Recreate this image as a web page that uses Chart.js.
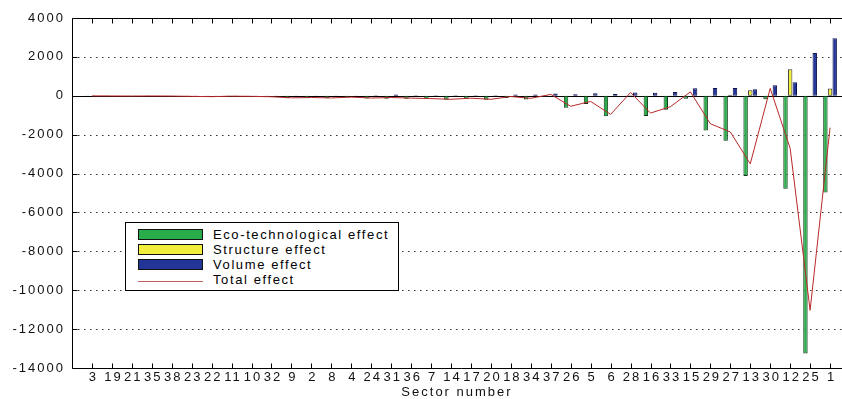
<!DOCTYPE html>
<html><head><meta charset="utf-8">
<script src="https://cdn.jsdelivr.net/npm/chart.js@4/dist/chart.umd.min.js"></script>
<style>
html,body{margin:0;padding:0;background:#fff;overflow:hidden;width:842px;height:399px}
#wrap{position:relative;width:842px;height:399px;overflow:hidden;background:#fff}
#c{position:absolute;left:0;top:0}
#legend{position:absolute;left:125px;top:222px;width:272px;height:67px;border:1px solid #000;background:#fff;font:13px "Liberation Sans",Arial,sans-serif;letter-spacing:1.6px;color:#000}
.sw{position:absolute;left:12px;width:65px;height:11px;box-sizing:border-box;border:1px solid #111}
.ln{position:absolute;left:12px;width:65px;height:0;border-top:1px solid #c06060}
.lt{position:absolute;left:87px;line-height:14px;white-space:nowrap}
</style></head>
<body><div id="wrap"><canvas id="c" width="850" height="399" style="width:850px;height:399px"></canvas>
<div id="legend"></div></div>
<script>
const sectors = ['3','19','21','35','38','23','22','11','10','32','9','2','8','4','24','31','36','7','14','17','20','18','34','37','26','5','6','28','16','33','15','29','27','13','30','12','25','1'];
const ecoTech = [-10,-15,-20,-15,-20,-40,-60,-30,-40,-60,-130,-110,-130,-90,-140,-150,-150,-170,-210,-150,-210,-110,-190,-50,-620,-420,-1050,-30,-1040,-720,-150,-1780,-2310,-4130,-180,-4780,-13250,-4980];
const structure = [0,0,0,0,0,0,0,0,0,0,5,0,0,0,0,0,0,0,0,0,0,0,0,0,0,0,0,30,0,20,0,-60,50,280,20,1360,20,380];
const volume = [5,5,5,5,5,10,15,10,10,10,20,20,20,20,25,60,30,25,30,25,30,70,60,120,80,130,90,170,150,200,390,400,400,330,540,700,2200,2960];
const total = [-5,-10,-15,-10,-15,-30,-45,-20,-30,-50,-105,-90,-110,-70,-115,-90,-120,-145,-180,-125,-180,-40,-130,70,-540,-290,-960,170,-890,-560,200,-1440,-1860,-3500,380,-2700,-11030,-1640];
const yTicks = [4000,2000,0,-2000,-4000,-6000,-8000,-10000,-12000,-14000];
const seriesNames = ['Eco-technological effect','Structure effect','Volume effect','Total effect'];
const xTitle = 'Sector number';

const colGreen = '#29ad4a', colYellow = '#f2ee3c', colBlue = '#233597', colRed = '#b82828';
const FONT = '"Liberation Sans", Arial, sans-serif';

const pts = arr => arr.map((v,i)=>({x:i+1,y:v}));

const framePlugin = {
  id:'frame',
  beforeDatasetsDraw(chart){
    const {ctx, chartArea:a, scales:{x,y}} = chart;
    ctx.save();
    ctx.strokeStyle='#333'; ctx.lineWidth=1; ctx.setLineDash([1.5,4.5]);
    yTicks.forEach(v=>{
      if(v===0||v===yTicks[0]||v===yTicks[yTicks.length-1]) return;
      const py=Math.round(y.getPixelForValue(v))+0.5;
      ctx.beginPath(); ctx.moveTo(a.left,py); ctx.lineTo(a.right,py); ctx.stroke();
    });
    ctx.setLineDash([]);
    ctx.strokeStyle='#000';
    const z=Math.round(y.getPixelForValue(0))+0.5;
    ctx.beginPath(); ctx.moveTo(a.left,z); ctx.lineTo(a.right,z); ctx.stroke();
    ctx.restore();
  },
  afterDraw(chart){
    const {ctx, chartArea:a, scales:{x,y}} = chart;
    ctx.save();
    ctx.strokeStyle='#000'; ctx.lineWidth=1;
    const L=Math.round(a.left)+0.5, T=Math.round(a.top)+0.5, B=Math.round(a.bottom)+0.5;
    ctx.beginPath();
    ctx.moveTo(L,T); ctx.lineTo(a.right,T);
    ctx.moveTo(L,T); ctx.lineTo(L,B);
    ctx.moveTo(L,B); ctx.lineTo(a.right,B);
    ctx.stroke();
    ctx.beginPath();
    sectors.forEach((s,i)=>{
      const px=Math.round(x.getPixelForValue(i+1))+0.5;
      ctx.moveTo(px,B); ctx.lineTo(px,B-5);
      ctx.moveTo(px,T); ctx.lineTo(px,T+5);
    });
    yTicks.forEach(v=>{
      const py=Math.round(y.getPixelForValue(v))+0.5;
      ctx.moveTo(L,py); ctx.lineTo(L+5,py);
    });
    ctx.stroke();
    ctx.fillStyle='#111';
    ctx.textBaseline='middle';
    ctx.font='13px '+FONT;
    ctx.textAlign='center';
    ctx.letterSpacing='2px';
    sectors.forEach((s,i)=>{
      ctx.fillText(s, x.getPixelForValue(i+1)+1.5, 377);
    });
    ctx.textAlign='right';
    ctx.letterSpacing='2px';
    yTicks.forEach(v=>{
      ctx.fillText(String(v), 65, y.getPixelForValue(v));
    });
    ctx.textAlign='center';
    ctx.letterSpacing='2px';
    ctx.fillText(xTitle, 457, 392);
    ctx.restore();
  }
};

new Chart(document.getElementById('c'), {
  data:{
    datasets:[
      {type:'line', label:seriesNames[3], data:pts(total), borderColor:colRed, borderWidth:1, pointRadius:0, tension:0, order:0},
      {type:'bar', label:seriesNames[0], data:pts(ecoTech), backgroundColor:colGreen, borderColor:'#103818', borderWidth:1, borderSkipped:false, order:1},
      {type:'bar', label:seriesNames[1], data:pts(structure), backgroundColor:colYellow, borderColor:'#333', borderWidth:1, borderSkipped:false, order:1},
      {type:'bar', label:seriesNames[2], data:pts(volume), backgroundColor:colBlue, borderColor:'#0c1450', borderWidth:1, borderSkipped:false, order:1}
    ]
  },
  options:{
    responsive:false, animation:false, devicePixelRatio:1,
    layout:{padding:{top:18,left:0,right:0,bottom:0}},
    datasets:{bar:{categoryPercentage:0.7, barPercentage:0.95, grouped:true}},
    plugins:{legend:{display:false}, tooltip:{enabled:false}},
    scales:{
      x:{type:'linear', min:0, max:39, offset:false,
         ticks:{display:false, stepSize:1}, grid:{display:false}, border:{display:false},
         afterFit(s){ s.height=31; }},
      y:{type:'linear', min:-14000, max:4000,
         ticks:{display:false, stepSize:2000}, grid:{display:false}, border:{display:false},
         afterFit(s){ s.width=72; }}
    }
  },
  plugins:[framePlugin]
});

const leg = document.getElementById('legend');
const swCols = [colGreen, colYellow, colBlue];
const rowTops = [6, 21, 36, 51];
seriesNames.forEach((n,i)=>{
  if(i<3){
    const d=document.createElement('div'); d.className='sw';
    d.style.top=rowTops[i]+'px'; d.style.background=swCols[i]; leg.appendChild(d);
  } else {
    const d=document.createElement('div'); d.className='ln';
    d.style.top=(rowTops[i]+7)+'px'; leg.appendChild(d);
  }
  const t=document.createElement('div'); t.className='lt';
  t.style.top=(rowTops[i]-1)+'px'; t.textContent=n; leg.appendChild(t);
});
</script>
</body></html>
